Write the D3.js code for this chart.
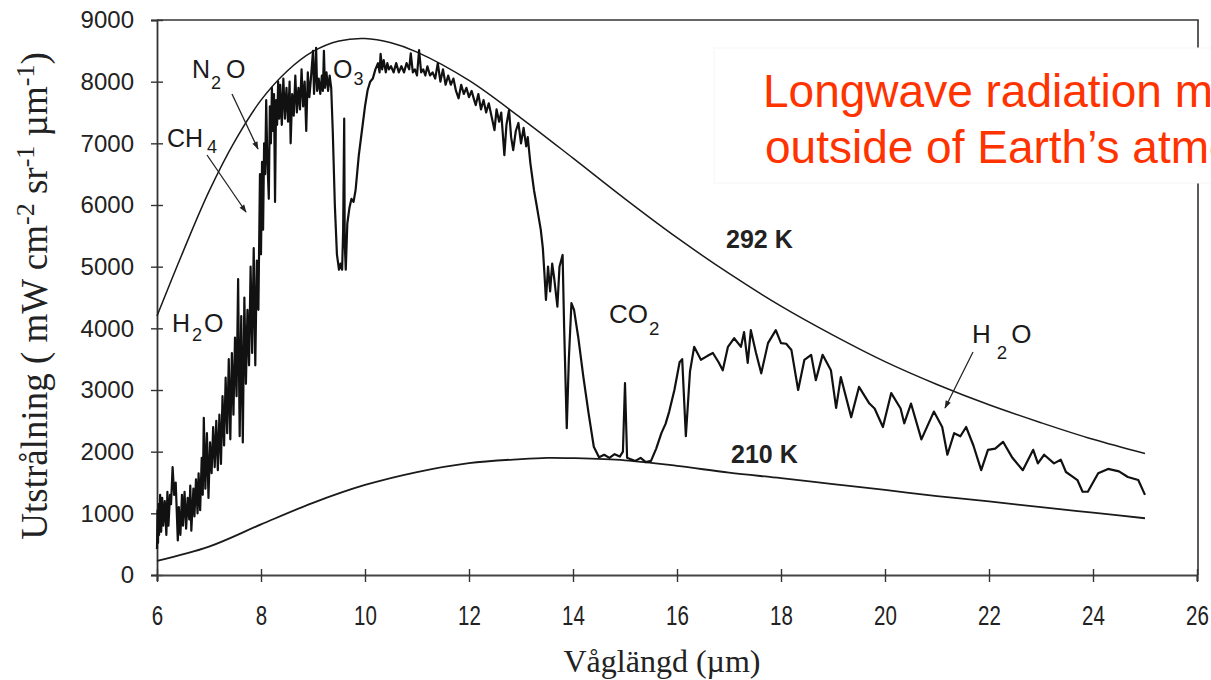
<!DOCTYPE html>
<html><head><meta charset="utf-8">
<script src="https://cdn.jsdelivr.net/npm/d3@7"></script>
<style>body{margin:0;background:#fff}svg{display:block}</style>
</head><body><svg id="c" width="1211" height="680"></svg>
<script>
// Measured outgoing longwave spectrum (µm, mW cm^-2 sr^-1 µm^-1)
const wavelength = [6.00,6.01,6.02,6.03,6.04,6.06,6.08,6.10,6.12,6.15,6.18,6.20,6.22,6.25,6.27,6.30,6.33,6.36,6.40,6.42,6.45,6.48,6.50,6.53,6.56,6.59,6.62,6.64,6.66,6.70,6.72,6.75,6.78,6.80,6.83,6.86,6.88,6.90,6.93,6.96,6.99,7.02,7.05,7.08,7.11,7.14,7.17,7.20,7.23,7.26,7.29,7.32,7.35,7.38,7.41,7.44,7.47,7.50,7.53,7.56,7.59,7.62,7.65,7.68,7.71,7.74,7.77,7.80,7.83,7.86,7.89,7.92,7.95,7.98,8.00,8.02,8.04,8.06,8.08,8.10,8.12,8.15,8.17,8.19,8.21,8.23,8.25,8.27,8.29,8.31,8.33,8.35,8.37,8.40,8.43,8.46,8.49,8.52,8.55,8.57,8.60,8.63,8.66,8.69,8.72,8.75,8.78,8.81,8.84,8.87,8.90,8.93,8.96,9.00,9.02,9.04,9.06,9.08,9.11,9.14,9.17,9.19,9.21,9.23,9.26,9.29,9.32,9.35,9.38,9.42,9.46,9.50,9.53,9.56,9.58,9.60,9.61,9.63,9.66,9.70,9.74,9.78,9.82,9.88,9.94,10.00,10.05,10.10,10.15,10.20,10.25,10.28,10.30,10.33,10.36,10.40,10.43,10.46,10.50,10.55,10.60,10.65,10.70,10.75,10.80,10.85,10.88,10.92,10.96,11.00,11.04,11.08,11.12,11.16,11.20,11.25,11.30,11.35,11.40,11.45,11.50,11.55,11.60,11.65,11.70,11.75,11.80,11.85,11.90,11.95,12.00,12.05,12.10,12.13,12.18,12.23,12.28,12.33,12.38,12.43,12.49,12.53,12.58,12.62,12.68,12.72,12.77,12.81,12.85,12.90,12.95,13.00,13.05,13.10,13.13,13.18,13.25,13.30,13.34,13.38,13.42,13.45,13.48,13.52,13.56,13.60,13.64,13.70,13.74,13.80,13.83,13.88,13.92,13.97,14.02,14.10,14.20,14.30,14.40,14.50,14.60,14.70,14.80,14.90,14.96,15.00,15.04,15.10,15.20,15.30,15.40,15.50,15.60,15.70,15.78,15.85,15.95,16.05,16.10,16.17,16.25,16.33,16.46,16.58,16.69,16.80,16.88,16.98,17.10,17.23,17.29,17.36,17.42,17.52,17.62,17.75,17.90,18.00,18.10,18.20,18.33,18.45,18.58,18.67,18.80,18.96,19.06,19.15,19.35,19.50,19.70,19.80,19.96,20.12,20.30,20.37,20.50,20.70,20.94,21.10,21.20,21.33,21.45,21.56,21.70,21.85,21.98,22.12,22.27,22.45,22.65,22.85,22.94,23.06,23.25,23.38,23.48,23.60,23.70,23.80,23.90,24.00,24.10,24.29,24.50,24.67,24.87,25.00];
const radiance = [420,1050,520,1150,650,1300,700,1250,800,1200,650,1350,800,1300,1150,1750,1300,1500,560,1100,650,1300,800,1350,750,1250,900,1450,720,1400,950,1550,1000,1650,1050,1900,1300,2550,1400,2300,1250,2150,1650,2400,1750,2500,1700,2600,1800,2900,2100,3200,2300,3500,2200,3600,2600,3850,2900,4800,2250,4200,2150,4500,3100,4300,3400,5000,3600,5300,3400,5100,4300,6500,5200,6700,5600,7000,6500,7700,6800,6100,7600,7000,7900,7200,7800,6050,7700,7300,8000,7400,7950,7300,8050,7400,7900,7350,8000,7000,7800,7450,8100,7500,7900,7550,8200,7600,8000,7200,8150,7750,8050,8500,7800,8100,8550,7850,8050,7800,8100,7850,8500,7900,8150,7850,8100,7900,7200,6000,5200,4950,5050,4950,5600,7400,5400,4950,5700,5950,6100,6050,6250,6800,7200,7600,7860,8000,8050,8200,8300,8150,8450,8200,8350,8150,8300,8200,8250,8150,8300,8150,8250,8150,8300,8200,8460,8150,8200,8100,8510,8150,8200,8100,8250,8100,8150,8050,8300,8000,8200,7950,8100,7950,8050,7850,7730,7950,7800,7900,7750,7850,7700,7620,7800,7550,7700,7500,7650,7450,7215,7550,7350,7500,6810,7300,7540,7100,6890,7200,7330,7000,7250,6950,7100,6680,6240,6000,5800,5600,5300,4900,4460,5000,4600,5050,4800,4350,5000,5190,4000,2380,3500,4410,4300,3860,3210,2620,2080,1910,1950,1900,1960,1920,2000,3110,1900,1880,1850,1900,1830,1850,2050,2300,2450,2650,3000,3450,3500,2250,3300,3700,3490,3550,3600,3450,3320,3700,3840,3700,3940,3440,3970,3600,3270,3760,3970,3760,3750,3650,3000,3490,3570,3160,3570,3320,2710,3210,2560,3050,2780,2700,2400,2950,2700,2460,2780,2200,2650,2400,1950,2300,2250,2400,2100,1700,2030,2050,2160,1900,1700,2030,1810,1950,1810,1870,1670,1600,1540,1350,1350,1500,1650,1720,1680,1590,1540,1300];
// Blackbody reference curves
const bb292Wavelength = [6,6.5,7,7.5,8,8.5,9,9.5,10,10.5,11,12,13,14,15,16,17,18,19,20,21,22,23,24,25];
const bb292 = [4200,5240,6220,7040,7700,8170,8490,8660,8700,8630,8480,8020,7410,6760,6100,5470,4890,4360,3890,3460,3090,2760,2470,2200,1970];
const bb210Wavelength = [6,7,8,9,10,11,12,13,13.5,14,15,16,17,18,19,20,21,22,23,24,25];
const bb210 = [230,460,820,1170,1460,1670,1815,1880,1900,1895,1860,1770,1660,1570,1475,1380,1280,1195,1100,1010,920];
const xTicks = [6,8,10,12,14,16,18,20,22,24,26];
const yTicks = [0,1000,2000,3000,4000,5000,6000,7000,8000,9000];

const svg = d3.select("#c");
const x = d3.scaleLinear().domain([6,26]).range([157,1197]);
const y = d3.scaleLinear().domain([0,9000]).range([575,20]);
const sans = "'Liberation Sans', Arial, Helvetica, sans-serif";
const serif = "'Liberation Serif', 'Times New Roman', serif";
const ink = "#1a1a1a";

// frame (top and right)
svg.append("path").attr("d", `M${x(6)},${y(9000)}H${x(26)+1}V${y(0)}`)
  .attr("fill","none").attr("stroke","#333").attr("stroke-width",1.6);

// axes
const yAxis = svg.append("g").attr("transform",`translate(${x(6)},0)`)
  .call(d3.axisLeft(y).tickValues(yTicks).tickSize(6).tickFormat(d3.format("d")));
yAxis.select(".domain").attr("stroke","#333").attr("stroke-width",1.8);
yAxis.selectAll(".tick line").attr("x1",6).attr("x2",-6).attr("stroke","#333").attr("stroke-width",1.4);
yAxis.selectAll(".tick text").attr("x",-23).attr("font-size",24).attr("font-family",sans).attr("fill","#222");

const xAxis = svg.append("g").attr("transform",`translate(0,${y(0)})`)
  .call(d3.axisBottom(x).tickValues(xTicks).tickSize(6).tickFormat(d3.format("d")));
xAxis.select(".domain").attr("stroke","#444").attr("stroke-width",2.2);
xAxis.selectAll(".tick line").attr("y1",-6).attr("y2",7).attr("stroke","#333").attr("stroke-width",1.4);
xAxis.selectAll(".tick text").attr("y",50).attr("dy",0).attr("font-size",27)
  .attr("font-family",sans).attr("fill","#222").attr("transform","scale(0.76,1)");

// blackbody curves
const line = d3.line().x(d=>x(d[0])).y(d=>y(d[1])).curve(d3.curveCatmullRom);
svg.append("path").datum(d3.zip(bb292Wavelength,bb292)).attr("d",line)
  .attr("fill","none").attr("stroke",ink).attr("stroke-width",1.5);
svg.append("path").datum(d3.zip(bb210Wavelength,bb210)).attr("d",line)
  .attr("fill","none").attr("stroke",ink).attr("stroke-width",1.8);

// measured spectrum
const specLine = d3.line().x(d=>x(d[0])).y(d=>y(d[1]));
svg.append("path").datum(d3.zip(wavelength,radiance)).attr("d",specLine)
  .attr("fill","none").attr("stroke","#111").attr("stroke-width",2.2).attr("stroke-linejoin","round");

// annotations
function chem(xp, yp, parts, size, weight){
  const t = svg.append("text").attr("x",xp).attr("y",yp).attr("font-family",sans)
    .attr("font-size",size).attr("fill","#1a1a1a").attr("font-weight",weight||"normal");
  parts.forEach(p=>{
    const s = t.append("tspan").text(p.t);
    if (p.sub) s.attr("font-size",size*0.72).attr("dy",p.sub).attr("dx",p.dx||0);
    else if (p.dy) s.attr("dy",p.dy).attr("dx",p.dx||0);
  });
}
chem(192,78,[{t:"N"},{t:"2",sub:11,dx:1},{t:"O",dy:-11,dx:5}],25);
chem(167,147,[{t:"CH"},{t:"4",sub:6,dx:4}],25);
chem(333,78,[{t:"O"},{t:"3",sub:7,dx:1}],25);
chem(172,332,[{t:"H"},{t:"2",sub:9,dx:2},{t:"O",dy:-9,dx:2}],25);
chem(609,323,[{t:"CO"},{t:"2",sub:12,dx:1}],26);
chem(972,343,[{t:"H"},{t:"2",sub:16,dx:6},{t:"O",dy:-16,dx:4}],26);
svg.append("text").attr("x",726).attr("y",248).attr("font-family",sans).attr("font-size",25)
  .attr("font-weight","bold").attr("fill","#222").text("292 K");
svg.append("text").attr("x",731).attr("y",463).attr("font-family",sans).attr("font-size",25)
  .attr("font-weight","bold").attr("fill","#222").text("210 K");

// arrows
const defs = svg.append("defs");
defs.append("marker").attr("id","ah").attr("viewBox","0 0 10 10").attr("refX",9).attr("refY",5)
  .attr("markerWidth",10).attr("markerHeight",8).attr("markerUnits","userSpaceOnUse").attr("orient","auto")
  .append("path").attr("d","M0,1.5L10,5L0,8.5Z").attr("fill","#222");
[[232,94,258,149],[207,155,246,212],[973,352,945,408]].forEach(a=>{
  svg.append("line").attr("x1",a[0]).attr("y1",a[1]).attr("x2",a[2]).attr("y2",a[3])
    .attr("stroke","#222").attr("stroke-width",1.3).attr("marker-end","url(#ah)");
});

// axis titles
svg.append("text").attr("x",662).attr("y",672).attr("text-anchor","middle")
  .attr("font-family",serif).attr("font-size",32).attr("fill","#222").text("Våglängd (µm)");
const yt = svg.append("text").attr("transform","translate(47,296) rotate(-90)").attr("text-anchor","middle")
  .attr("font-family",serif).attr("font-size",37).attr("fill","#222");
yt.append("tspan").text("Utstrålning ( mW cm");
yt.append("tspan").attr("dy",-13).attr("font-size",26).text("-2");
yt.append("tspan").attr("dy",13).text(" sr");
yt.append("tspan").attr("dy",-13).attr("font-size",26).text("-1");
yt.append("tspan").attr("dy",13).text(" µm");
yt.append("tspan").attr("dy",-13).attr("font-size",26).text("-1");
yt.append("tspan").attr("dy",13).text(")");

// overlay caption box
svg.append("rect").attr("x",714).attr("y",48).attr("width",520).attr("height",135)
  .attr("fill","#fff").attr("stroke","#f6f6f6").attr("stroke-width",1);
svg.append("text").attr("x",763).attr("y",107).attr("font-family",sans).attr("font-size",46)
  .attr("fill","#ff3300").text("Longwave radiation measured");
svg.append("text").attr("x",765).attr("y",163).attr("font-family",sans).attr("font-size",46)
  .attr("fill","#ff3300").text("outside of Earth’s atmosphere");
</script></body></html>
